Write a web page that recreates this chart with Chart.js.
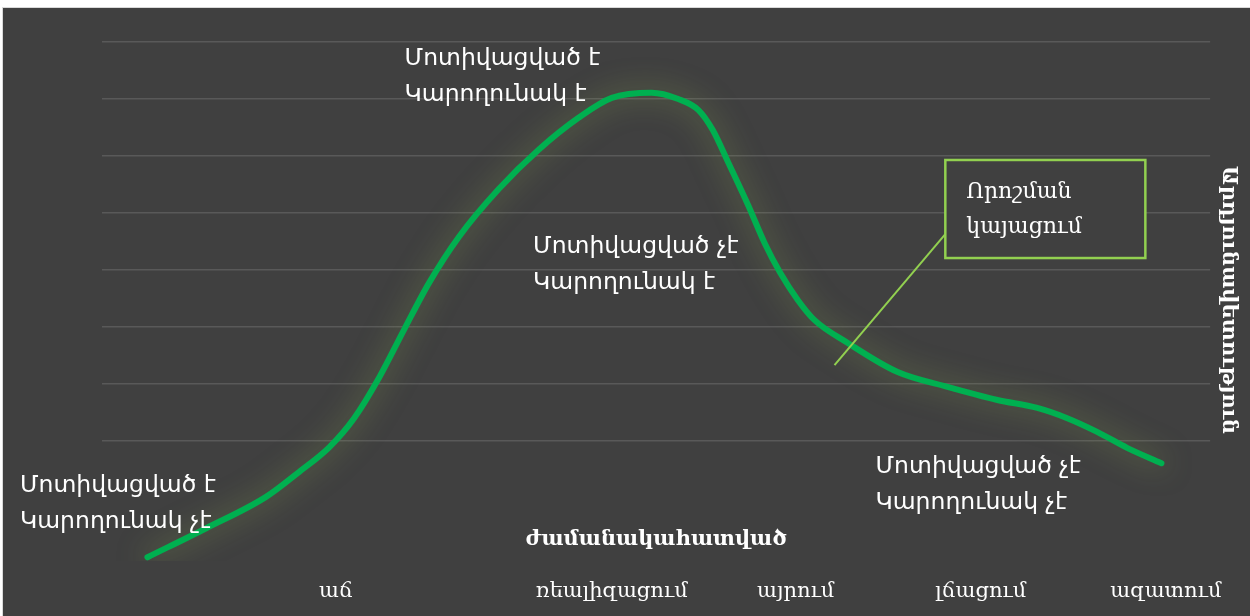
<!DOCTYPE html>
<html>
<head>
<meta charset="utf-8">
<script src="https://cdn.jsdelivr.net/npm/chart.js@4.4.0/dist/chart.umd.min.js"></script>
<style>
    html, body { margin: 0; padding: 0; background: #ffffff; }
    #wrap {
        position: absolute; left: 2px; top: 7px;
        width: 1247px; height: 608px;
        background: #404040;
        border-left: 1px solid #d9d9d9;
        border-top: 1px solid #d9d9d9;
    }
    canvas { display: block; }
</style>
</head>
<body>
<div id="wrap"><canvas id="chart" width="1247" height="608"></canvas></div>
<script>
// stages along the time axis
var stageLabels = ['աճ', 'ռեալիզացում', 'այրում', 'լճացում', 'ազատում'];
var stageValues = [21.1, 46.0, 62.6, 79.3, 96.0];

// the curve
var curveX = [4.1, 9.4, 14.8, 17.8, 20.5, 22.75, 25.0, 27.25, 29.5, 32.2, 35.8, 39.4, 43.0, 46.0, 49.6, 52.0, 53.8, 55.1, 56.5, 58.3, 59.8, 61.2, 62.8, 64.3, 67.3, 71.8, 76.3, 80.8, 84.4, 87.1, 89.8, 92.5, 95.6];
var curveY = [-0.04, 0.47, 1.02, 1.46, 1.89, 2.40, 3.11, 3.95, 4.77, 5.58, 6.42, 7.11, 7.67, 8.02, 8.11, 8.00, 7.81, 7.46, 6.89, 6.14, 5.47, 4.95, 4.47, 4.12, 3.72, 3.21, 2.95, 2.72, 2.58, 2.40, 2.16, 1.88, 1.61];

var xTitle = 'ժամանակահատված';
var yTitle = 'Արդյունավետություն';

var noteTexts = [
    ['Մոտիվացված է', 'Կարողունակ չէ'],
    ['Մոտիվացված է', 'Կարողունակ է'],
    ['Մոտիվացված չէ', 'Կարողունակ է'],
    ['Մոտիվացված չէ', 'Կարողունակ չէ']
];
var decisionText = ['Որոշման', 'կայացում'];

// where the notes sit, in axis units
var noteAnchors = [
    { x: -7.4, y: 1.21 },
    { x: 27.3, y: 8.70 },
    { x: 38.9, y: 5.40 },
    { x: 69.8, y: 1.54 }
];
var decisionBox = { x1: 76.1, y1: 6.93, x2: 94.15, y2: 5.21 };
var leader = { x1: 66.1, y1: 3.33, x2: 76.1, y2: 5.63 };

var glowPlugin = {
    id: 'glow',
    beforeDatasetDraw: function (chart) {
        var ctx = chart.ctx;
        ctx.save();
        ctx.shadowColor = 'rgba(165, 200, 90, 0.5)';
        ctx.shadowBlur = 28;
    },
    afterDatasetDraw: function (chart) {
        chart.ctx.restore();
    }
};

var notesPlugin = {
    id: 'notes',
    afterDatasetsDraw: function (chart) {
        var ctx = chart.ctx;
        var xs = chart.scales.x;
        var ys = chart.scales.y;
        ctx.save();
        ctx.fillStyle = '#ffffff';
        ctx.textAlign = 'left';
        ctx.textBaseline = 'middle';
        ctx.font = '23.5px "DejaVu Sans"';
        for (var i = 0; i < noteTexts.length; i++) {
            var px = xs.getPixelForValue(noteAnchors[i].x);
            var py = ys.getPixelForValue(noteAnchors[i].y);
            for (var j = 0; j < noteTexts[i].length; j++) {
                ctx.fillText(noteTexts[i][j], px, py + j * 36);
            }
        }

        // leader line
        ctx.strokeStyle = '#92d050';
        ctx.lineWidth = 2;
        ctx.beginPath();
        ctx.moveTo(xs.getPixelForValue(leader.x1), ys.getPixelForValue(leader.y1));
        ctx.lineTo(xs.getPixelForValue(leader.x2), ys.getPixelForValue(leader.y2));
        ctx.stroke();

        // decision box
        var bx1 = xs.getPixelForValue(decisionBox.x1);
        var by1 = ys.getPixelForValue(decisionBox.y1);
        var bx2 = xs.getPixelForValue(decisionBox.x2);
        var by2 = ys.getPixelForValue(decisionBox.y2);
        ctx.fillStyle = '#404040';
        ctx.fillRect(bx1, by1, bx2 - bx1, by2 - by1);
        ctx.lineWidth = 2.5;
        ctx.strokeRect(bx1, by1, bx2 - bx1, by2 - by1);
        ctx.fillStyle = '#ffffff';
        ctx.font = '22px "DejaVu Serif"';
        for (var k = 0; k < decisionText.length; k++) {
            ctx.fillText(decisionText[k], bx1 + 21, by1 + 32 + k * 35);
        }
        ctx.restore();
    }
};

var chart = new Chart(document.getElementById('chart').getContext('2d'), {
    type: 'line',
    data: {
        datasets: [{
            data: curveX.map(function (v, i) { return { x: v, y: curveY[i] }; }),
            borderColor: '#00b050',
            borderWidth: 6,
            borderCapStyle: 'round',
            cubicInterpolationMode: 'monotone',
            pointRadius: 0,
            fill: false,
            clip: { left: false, right: false, top: false, bottom: 63 }
        }]
    },
    options: {
        responsive: false,
        animation: false,
        layout: { padding: { top: -24, bottom: 0, left: 0, right: 0 } },
        plugins: {
            legend: { display: false },
            tooltip: { enabled: false },
            title: {
                display: true,
                position: 'right',
                text: yTitle,
                color: '#ffffff',
                font: { family: 'DejaVu Serif', size: 21, weight: 'bold' },
                padding: { top: 5, bottom: 6 }
            }
        },
        scales: {
            x: {
                type: 'linear',
                position: 'bottom',
                weight: 1,
                min: 0,
                max: 100,
                grid: { display: false, drawTicks: false },
                border: { display: false },
                afterBuildTicks: function (scale) {
                    scale.ticks = stageValues.map(function (v) { return { value: v }; });
                },
                afterFit: function (scale) { scale.height = 64; },
                ticks: {
                    color: '#ffffff',
                    padding: 27,
                    maxRotation: 0,
                    autoSkip: false,
                    font: { family: 'DejaVu Serif', size: 21 },
                    callback: function (value, index) { return stageLabels[index]; }
                }
            },
            x2: {
                type: 'linear',
                position: 'bottom',
                weight: 0,
                min: 0,
                max: 100,
                grid: { display: false, drawTicks: false },
                border: { display: false },
                ticks: { display: false },
                afterFit: function (scale) { scale.height = 54; },
                title: {
                    display: true,
                    text: xTitle,
                    color: '#ffffff',
                    font: { family: 'DejaVu Serif', size: 21, weight: 'bold' },
                    padding: { top: 0, bottom: 0 }
                }
            },
            xTop: {
                type: 'linear',
                position: 'top',
                min: 0,
                max: 100,
                grid: { display: false, drawTicks: false },
                border: { display: false },
                ticks: { display: false },
                afterFit: function (scale) { scale.height = 58; }
            },
            y: {
                type: 'linear',
                position: 'left',
                min: 1,
                max: 9,
                ticks: { display: false, stepSize: 1 },
                border: { display: false },
                grid: {
                    drawTicks: false,
                    lineWidth: 1.5,
                    color: function (ctx) {
                        return ctx.tick && ctx.tick.value >= 2 ? '#595959' : 'rgba(0,0,0,0)';
                    }
                },
                afterFit: function (scale) { scale.width = 99; }
            }
        }
    },
    plugins: [glowPlugin, notesPlugin]
});
</script>
</body>
</html>
